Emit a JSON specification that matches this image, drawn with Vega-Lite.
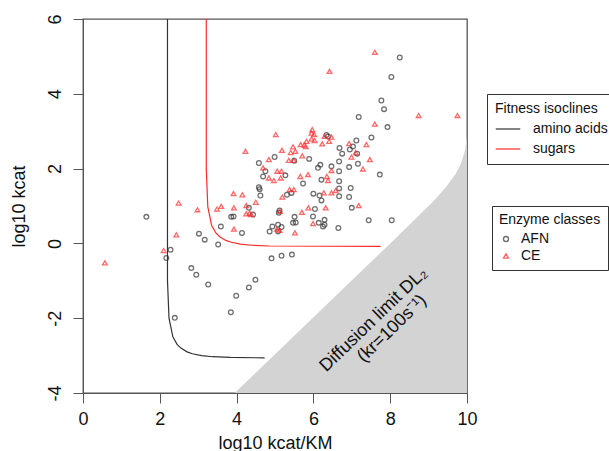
{
  "$schema": "https://vega.github.io/schema/vega-lite/v6.json",
  "width": 384,
  "height": 374,
  "autosize": {"type": "none"},
  "padding": {"left": 83, "top": 19, "right": 142, "bottom": 58},
  "datasets": {
    "dl": [
      {"x": 3.95, "y": -4}, {"x": 8.0, "y": 0.0}, {"x": 8.6, "y": 0.6},
      {"x": 9.1, "y": 1.1}, {"x": 9.45, "y": 1.5}, {"x": 9.7, "y": 1.85},
      {"x": 9.85, "y": 2.15}, {"x": 9.95, "y": 2.5}, {"x": 10, "y": 2.9}
    ],
    "iso": [
      {"iso": "amino acids", "ord": 1, "x": 2.2, "y": 6},
      {"iso": "amino acids", "ord": 2, "x": 2.2, "y": -1},
      {"iso": "amino acids", "ord": 3, "x": 2.24, "y": -2},
      {"iso": "amino acids", "ord": 4, "x": 2.34, "y": -2.5},
      {"iso": "amino acids", "ord": 5, "x": 2.45, "y": -2.7},
      {"iso": "amino acids", "ord": 6, "x": 2.55, "y": -2.8},
      {"iso": "amino acids", "ord": 7, "x": 2.71, "y": -2.9},
      {"iso": "amino acids", "ord": 8, "x": 2.85, "y": -2.95},
      {"iso": "amino acids", "ord": 9, "x": 3.09, "y": -3.0},
      {"iso": "amino acids", "ord": 10, "x": 3.38, "y": -3.03},
      {"iso": "amino acids", "ord": 11, "x": 3.84, "y": -3.05},
      {"iso": "amino acids", "ord": 12, "x": 4.73, "y": -3.06},
      {"iso": "sugars", "ord": 1, "x": 3.21, "y": 6},
      {"iso": "sugars", "ord": 2, "x": 3.21, "y": 2},
      {"iso": "sugars", "ord": 3, "x": 3.25, "y": 0.98},
      {"iso": "sugars", "ord": 4, "x": 3.35, "y": 0.48},
      {"iso": "sugars", "ord": 5, "x": 3.46, "y": 0.28},
      {"iso": "sugars", "ord": 6, "x": 3.56, "y": 0.18},
      {"iso": "sugars", "ord": 7, "x": 3.72, "y": 0.08},
      {"iso": "sugars", "ord": 8, "x": 3.86, "y": 0.03},
      {"iso": "sugars", "ord": 9, "x": 4.1, "y": -0.02},
      {"iso": "sugars", "ord": 10, "x": 4.39, "y": -0.05},
      {"iso": "sugars", "ord": 11, "x": 4.85, "y": -0.07},
      {"iso": "sugars", "ord": 12, "x": 7.75, "y": -0.08}
    ],
    "pts": [
      {"cls": "AFN", "x": 1.65, "y": 0.71}, {"cls": "AFN", "x": 2.28, "y": -0.17},
      {"cls": "AFN", "x": 2.17, "y": -0.39}, {"cls": "AFN", "x": 2.39, "y": -1.99},
      {"cls": "AFN", "x": 3.02, "y": 0.26}, {"cls": "AFN", "x": 3.17, "y": 0.1},
      {"cls": "AFN", "x": 3.52, "y": -0.03}, {"cls": "AFN", "x": 2.82, "y": -0.66},
      {"cls": "AFN", "x": 2.95, "y": -0.84}, {"cls": "AFN", "x": 3.26, "y": -1.1},
      {"cls": "AFN", "x": 3.99, "y": -1.4}, {"cls": "AFN", "x": 3.85, "y": -1.84},
      {"cls": "AFN", "x": 4.32, "y": -1.18}, {"cls": "AFN", "x": 4.49, "y": -0.97},
      {"cls": "AFN", "x": 4.91, "y": -0.4}, {"cls": "AFN", "x": 5.17, "y": -0.33},
      {"cls": "AFN", "x": 5.44, "y": -0.3}, {"cls": "AFN", "x": 3.59, "y": 0.45},
      {"cls": "AFN", "x": 4.14, "y": 0.28}, {"cls": "AFN", "x": 3.86, "y": 0.71},
      {"cls": "AFN", "x": 3.92, "y": 0.72}, {"cls": "AFN", "x": 4.43, "y": 0.77},
      {"cls": "AFN", "x": 4.32, "y": 0.95}, {"cls": "AFN", "x": 4.62, "y": 1.28},
      {"cls": "AFN", "x": 5.31, "y": 1.3}, {"cls": "AFN", "x": 5.73, "y": 1.6},
      {"cls": "AFN", "x": 6.0, "y": 1.33}, {"cls": "AFN", "x": 6.16, "y": 1.28},
      {"cls": "AFN", "x": 5.12, "y": 0.88}, {"cls": "AFN", "x": 5.1, "y": 0.82},
      {"cls": "AFN", "x": 6.04, "y": 0.92}, {"cls": "AFN", "x": 5.99, "y": 0.72},
      {"cls": "AFN", "x": 5.51, "y": 0.71}, {"cls": "AFN", "x": 5.47, "y": 0.55},
      {"cls": "AFN", "x": 5.54, "y": 0.56}, {"cls": "AFN", "x": 6.14, "y": 0.55},
      {"cls": "AFN", "x": 6.29, "y": 0.63}, {"cls": "AFN", "x": 6.29, "y": 0.5},
      {"cls": "AFN", "x": 6.25, "y": 0.45}, {"cls": "AFN", "x": 4.93, "y": 0.45},
      {"cls": "AFN", "x": 5.08, "y": 0.5}, {"cls": "AFN", "x": 5.17, "y": 0.44},
      {"cls": "AFN", "x": 4.86, "y": 0.32}, {"cls": "AFN", "x": 5.08, "y": 0.32},
      {"cls": "AFN", "x": 4.99, "y": 2.31}, {"cls": "AFN", "x": 4.58, "y": 2.15},
      {"cls": "AFN", "x": 4.75, "y": 1.93}, {"cls": "AFN", "x": 5.5, "y": 2.21},
      {"cls": "AFN", "x": 4.69, "y": 1.79}, {"cls": "AFN", "x": 5.27, "y": 1.82},
      {"cls": "AFN", "x": 4.58, "y": 1.5}, {"cls": "AFN", "x": 4.6, "y": 1.45},
      {"cls": "AFN", "x": 5.43, "y": 1.35}, {"cls": "AFN", "x": 6.34, "y": 2.9},
      {"cls": "AFN", "x": 6.38, "y": 2.86}, {"cls": "AFN", "x": 5.89, "y": 2.26},
      {"cls": "AFN", "x": 6.18, "y": 2.1}, {"cls": "AFN", "x": 6.12, "y": 2.02},
      {"cls": "AFN", "x": 6.21, "y": 1.7}, {"cls": "AFN", "x": 6.67, "y": 1.47},
      {"cls": "AFN", "x": 6.67, "y": 1.26}, {"cls": "AFN", "x": 6.21, "y": 1.15},
      {"cls": "AFN", "x": 6.97, "y": 1.48}, {"cls": "AFN", "x": 6.93, "y": 1.24},
      {"cls": "AFN", "x": 7.0, "y": 0.95}, {"cls": "AFN", "x": 6.65, "y": 0.41},
      {"cls": "AFN", "x": 7.44, "y": 0.62}, {"cls": "AFN", "x": 8.04, "y": 0.62},
      {"cls": "AFN", "x": 7.77, "y": 3.82}, {"cls": "AFN", "x": 7.84, "y": 3.59},
      {"cls": "AFN", "x": 7.18, "y": 3.38}, {"cls": "AFN", "x": 7.93, "y": 3.11},
      {"cls": "AFN", "x": 7.51, "y": 2.83}, {"cls": "AFN", "x": 7.12, "y": 2.75},
      {"cls": "AFN", "x": 7.03, "y": 2.59}, {"cls": "AFN", "x": 6.95, "y": 2.51},
      {"cls": "AFN", "x": 6.68, "y": 2.55}, {"cls": "AFN", "x": 6.75, "y": 2.4},
      {"cls": "AFN", "x": 7.14, "y": 2.4}, {"cls": "AFN", "x": 6.67, "y": 2.19},
      {"cls": "AFN", "x": 6.93, "y": 2.04}, {"cls": "AFN", "x": 7.16, "y": 2.13},
      {"cls": "AFN", "x": 6.67, "y": 1.93}, {"cls": "AFN", "x": 7.73, "y": 1.84},
      {"cls": "AFN", "x": 6.47, "y": 2.06}, {"cls": "AFN", "x": 6.67, "y": 1.66},
      {"cls": "AFN", "x": 8.25, "y": 4.97}, {"cls": "AFN", "x": 8.03, "y": 4.45},
      {"cls": "CE", "x": 0.57, "y": -0.52}, {"cls": "CE", "x": 2.1, "y": -0.19},
      {"cls": "CE", "x": 2.49, "y": 1.08}, {"cls": "CE", "x": 2.43, "y": 0.23},
      {"cls": "CE", "x": 2.98, "y": 0.9}, {"cls": "CE", "x": 3.49, "y": 0.92},
      {"cls": "CE", "x": 3.6, "y": 0.99}, {"cls": "CE", "x": 3.93, "y": 0.95},
      {"cls": "CE", "x": 3.93, "y": 0.38}, {"cls": "CE", "x": 4.25, "y": 1.01},
      {"cls": "CE", "x": 4.25, "y": 0.79}, {"cls": "CE", "x": 4.34, "y": 0.81},
      {"cls": "CE", "x": 4.38, "y": 0.77}, {"cls": "CE", "x": 3.92, "y": 1.33},
      {"cls": "CE", "x": 4.15, "y": 1.3}, {"cls": "CE", "x": 4.5, "y": 1.1},
      {"cls": "CE", "x": 5.19, "y": 1.24}, {"cls": "CE", "x": 5.38, "y": 1.44},
      {"cls": "CE", "x": 5.49, "y": 1.44}, {"cls": "CE", "x": 5.13, "y": 0.86},
      {"cls": "CE", "x": 5.7, "y": 0.83}, {"cls": "CE", "x": 5.87, "y": 0.95},
      {"cls": "CE", "x": 6.32, "y": 0.95}, {"cls": "CE", "x": 5.99, "y": 0.53},
      {"cls": "CE", "x": 5.05, "y": 0.38}, {"cls": "CE", "x": 5.12, "y": 0.35},
      {"cls": "CE", "x": 5.52, "y": 0.28}, {"cls": "CE", "x": 5.02, "y": 2.91},
      {"cls": "CE", "x": 4.23, "y": 2.46}, {"cls": "CE", "x": 5.18, "y": 2.49},
      {"cls": "CE", "x": 5.47, "y": 2.58}, {"cls": "CE", "x": 5.41, "y": 2.43},
      {"cls": "CE", "x": 5.53, "y": 2.46}, {"cls": "CE", "x": 5.67, "y": 2.64},
      {"cls": "CE", "x": 4.84, "y": 2.24}, {"cls": "CE", "x": 4.69, "y": 2.02},
      {"cls": "CE", "x": 5.36, "y": 2.22}, {"cls": "CE", "x": 5.49, "y": 2.22},
      {"cls": "CE", "x": 5.06, "y": 1.93}, {"cls": "CE", "x": 5.17, "y": 1.93},
      {"cls": "CE", "x": 4.84, "y": 1.75}, {"cls": "CE", "x": 4.97, "y": 1.68},
      {"cls": "CE", "x": 5.15, "y": 1.75}, {"cls": "CE", "x": 5.97, "y": 3.04},
      {"cls": "CE", "x": 5.95, "y": 2.95}, {"cls": "CE", "x": 6.02, "y": 2.91},
      {"cls": "CE", "x": 5.95, "y": 2.79}, {"cls": "CE", "x": 6.03, "y": 2.75},
      {"cls": "CE", "x": 6.29, "y": 2.86}, {"cls": "CE", "x": 6.47, "y": 2.84},
      {"cls": "CE", "x": 6.23, "y": 2.66}, {"cls": "CE", "x": 6.41, "y": 2.73},
      {"cls": "CE", "x": 5.82, "y": 2.73}, {"cls": "CE", "x": 5.8, "y": 2.59},
      {"cls": "CE", "x": 5.76, "y": 2.63}, {"cls": "CE", "x": 5.71, "y": 2.34},
      {"cls": "CE", "x": 6.35, "y": 1.79}, {"cls": "CE", "x": 6.38, "y": 1.68},
      {"cls": "CE", "x": 6.47, "y": 1.95}, {"cls": "CE", "x": 5.66, "y": 1.79},
      {"cls": "CE", "x": 5.86, "y": 1.84}, {"cls": "CE", "x": 6.27, "y": 1.35},
      {"cls": "CE", "x": 6.47, "y": 1.35}, {"cls": "CE", "x": 6.58, "y": 1.41},
      {"cls": "CE", "x": 7.18, "y": 1.01}, {"cls": "CE", "x": 7.6, "y": 3.19},
      {"cls": "CE", "x": 7.38, "y": 2.64}, {"cls": "CE", "x": 6.93, "y": 2.67},
      {"cls": "CE", "x": 7.1, "y": 2.43}, {"cls": "CE", "x": 6.99, "y": 2.31},
      {"cls": "CE", "x": 7.47, "y": 2.24}, {"cls": "CE", "x": 7.29, "y": 1.99},
      {"cls": "CE", "x": 7.6, "y": 5.11}, {"cls": "CE", "x": 6.42, "y": 4.6},
      {"cls": "CE", "x": 8.74, "y": 3.42}, {"cls": "CE", "x": 9.75, "y": 3.42}
    ],
    "lbl": [
      {"x": 7.57, "y": -2.04, "t": "Diffusion limit DL₂"},
      {"x": 8.05, "y": -2.28, "t": "(kr=100s⁻¹)"}
    ]
  },
  "layer": [
    {
      "data": {"name": "dl"},
      "mark": {"type": "area", "color": "#d3d3d3", "clip": true},
      "encoding": {
        "x": {
          "field": "x", "type": "quantitative",
          "scale": {"domain": [0, 10], "nice": false, "zero": false},
          "axis": {"values": [0, 2, 4, 6, 8, 10], "title": "log10 kcat/KM", "labelFlush": false, "labelPadding": 7, "titlePadding": 6}
        },
        "y": {
          "field": "y", "type": "quantitative",
          "scale": {"domain": [-4, 6], "nice": false, "zero": false},
          "axis": {
            "values": [-4, -2, 0, 2, 4, 6], "title": "log10 kcat", "labelFlush": false,
            "labelAngle": -90, "labelAlign": "center", "labelBaseline": "bottom",
            "labelPadding": 9, "titlePadding": 18,
            "labelExpr": "replace(datum.label, '−', '-')"
          }
        },
        "y2": {"datum": -4}
      }
    },
    {
      "data": {"name": "lbl"},
      "mark": {"type": "text", "angle": -44, "fontSize": 18, "font": "Liberation Sans", "color": "#111"},
      "encoding": {
        "x": {"field": "x", "type": "quantitative"},
        "y": {"field": "y", "type": "quantitative"},
        "text": {"field": "t"}
      }
    },
    {
      "data": {"name": "iso"},
      "mark": {"type": "line", "strokeWidth": 1.2, "clip": true},
      "encoding": {
        "x": {"field": "x", "type": "quantitative"},
        "y": {"field": "y", "type": "quantitative"},
        "order": {"field": "ord"},
        "stroke": {
          "field": "iso", "type": "nominal",
          "scale": {"domain": ["amino acids", "sugars"], "range": ["#333333", "#ff2a2a"]},
          "legend": {
            "title": "Fitness isoclines", "orient": "none", "legendX": 404, "legendY": 75,
            "symbolType": "stroke", "symbolSize": 600, "symbolStrokeWidth": 1.2,
            "strokeColor": "#333", "padding": 8, "titlePadding": 0, "rowPadding": -12, "labelOffset": 12
          }
        }
      }
    },
    {
      "data": {"name": "pts"},
      "mark": {"type": "point", "filled": false, "strokeWidth": 1.3, "size": 22},
      "encoding": {
        "x": {"field": "x", "type": "quantitative"},
        "y": {"field": "y", "type": "quantitative"},
        "color": {
          "field": "cls", "type": "nominal",
          "scale": {"domain": ["AFN", "CE"], "range": ["#333333", "#ff2a2a"]},
          "legend": {
            "title": "Enzyme classes", "orient": "none", "legendX": 409, "legendY": 187,
            "strokeColor": "#333", "padding": 7, "titlePadding": 5, "rowPadding": 3, "symbolSize": 25,
            "labelOffset": 8, "symbolStrokeWidth": 1.4,
            "encode": {"entries": {"update": {"x": {"value": 26}}}}
          }
        },
        "shape": {
          "field": "cls", "type": "nominal",
          "scale": {"domain": ["AFN", "CE"], "range": ["circle", "triangle-up"]}
        }
      }
    }
  ],
  "config": {
    "font": "Liberation Sans",
    "view": {"stroke": "#555555", "strokeWidth": 1.3},
    "axis": {
      "grid": false,
      "domainColor": "#555555",
      "tickColor": "#555555",
      "tickSize": 10,
      "labelFontSize": 18,
      "labelColor": "#111",
      "titleFontSize": 18,
      "titleFontWeight": "normal",
      "titleColor": "#111"
    },
    "legend": {
      "titleFontSize": 14,
      "titleFontWeight": "normal",
      "titleColor": "#111",
      "labelFontSize": 14,
      "labelFontWeight": "normal",
      "labelColor": "#111"
    }
  }
}
